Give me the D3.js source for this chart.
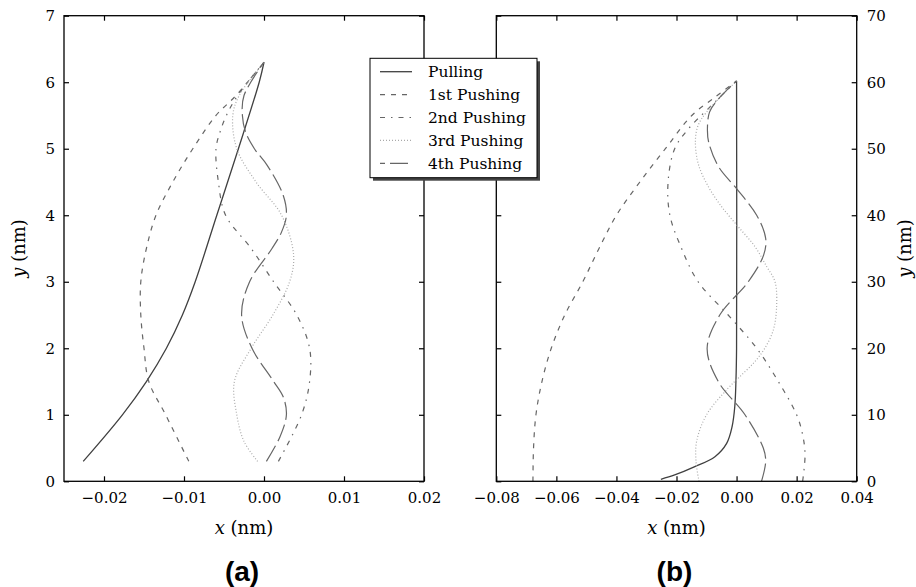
<!DOCTYPE html>
<html>
<head>
<meta charset="utf-8">
<script src="https://cdn.jsdelivr.net/npm/d3@7"></script>
<style>
	body	{ margin:0; background:#fff; }
	svg	{ display:block; }
	.tick text	{ font-family:"DejaVu Serif", serif; font-size:15px; fill:#000; }
	.lbl	{ font-family:"DejaVu Serif", serif; font-size:18px; fill:#000; }
	.leg	{ font-family:"DejaVu Serif", serif; font-size:15.5px; fill:#000; }
	.tag	{ font-family:"Liberation Sans", Arial, sans-serif; font-size:28px; font-weight:bold; fill:#000; }
</style>
</head>
<body>
<div id="chart"></div>
<script>
// series names, in legend order
var seriesNames	= ["Pulling", "1st Pushing", "2nd Pushing", "3rd Pushing", "4th Pushing"];

// panel (a): [x nm, y nm] bottom to top
var pullA	= [[-0.0226,0.3],[-0.0177,1],[-0.0147,1.5],[-0.0122,2],[-0.0102,2.5],[-0.0086,3],[-0.0059,4],[-0.0032,5],[-0.0006,6],[0,6.3]];
var push1A	= [[-0.0094,0.3],[-0.0123,1],[-0.0144,1.5],[-0.0150,2],[-0.0154,2.5],[-0.0154,3],[-0.0147,3.5],[-0.0135,4],[-0.0114,4.5],[-0.0089,5],[-0.0060,5.5],[-0.0035,5.8],[0,6.3]];
var push2A	= [[0.0018,0.3],[0.0047,1],[0.0057,1.5],[0.0057,2],[0.0041,2.5],[0.0012,3],[-0.0016,3.5],[-0.0048,4],[-0.0057,4.5],[-0.0060,5],[-0.0055,5.25],[-0.0047,5.5],[-0.0033,5.8],[0,6.3]];
var push3A	= [[-0.0008,0.3],[-0.0025,0.6],[-0.0034,1],[-0.0037,1.5],[-0.0016,2],[0.0011,2.5],[0.0032,3],[0.0037,3.4],[0.0022,4],[-0.0010,4.5],[-0.0034,5],[-0.0039,5.5],[-0.0031,5.8],[0,6.3]];
var push4A	= [[0.0003,0.3],[0.0020,0.67],[0.0028,1],[0.0024,1.27],[0.0011,1.52],[-0.0015,2],[-0.0028,2.5],[-0.0018,3],[0.0010,3.5],[0.0022,3.75],[0.0028,4],[0.0024,4.3],[0.0004,4.75],[-0.0012,5],[-0.0023,5.25],[-0.0027,5.5],[-0.0025,5.8],[0,6.3]];

// panel (b)
var pullB	= [[-0.0252,0.3],[-0.0206,0.95],[-0.0139,2.2],[-0.0072,3.7],[-0.0033,5.7],[-0.0015,8.2],[-0.0006,11.2],[-0.0002,15.2],[0,20],[0,60.2]];
var push1B	= [[-0.0678,0],[-0.0676,5],[-0.0668,10],[-0.0648,15],[-0.0617,20],[-0.0572,25],[-0.0512,30],[-0.0458,35],[-0.0400,40],[-0.0322,45],[-0.0237,50],[-0.0149,55],[-0.0070,57.8],[0,60.2]];
var push2B	= [[0.0220,0],[0.0228,4],[0.0220,7],[0.0200,10],[0.0139,15],[0.0067,20],[-0.0028,25],[-0.0128,30],[-0.0183,35],[-0.0222,40],[-0.0228,45],[-0.0206,50],[-0.0160,53],[-0.0095,56],[0,60.2]];
var push3B	= [[-0.0125,0],[-0.0135,3],[-0.0133,6],[-0.0100,10],[-0.0028,14],[0.0017,16],[0.0061,18],[0.0094,20],[0.0122,22.7],[0.0133,26],[0.0128,30],[0.0100,32.3],[0.0061,35.3],[0.0005,38.3],[-0.0050,41.3],[-0.0094,44.3],[-0.0128,47.8],[-0.0137,51.3],[-0.0128,53.5],[-0.0100,55.5],[0,60.2]];
var push4B	= [[0.0083,0],[0.0097,3],[0.0089,5],[0.0028,10],[-0.0061,15],[-0.0098,20],[-0.0056,25],[0.0039,30],[0.0090,34],[0.0097,36.5],[0.0067,40],[0,44],[-0.0060,47.3],[-0.0093,51],[-0.0097,53],[-0.0090,55.5],[-0.0060,57.5],[0,60.2]];

// ticks
var xTicksA	= [-0.02,-0.01,0,0.01,0.02];
var yTicksA	= [0,1,2,3,4,5,6,7];
var xTicksB	= [-0.08,-0.06,-0.04,-0.02,0,0.02,0.04];
var yTicksB	= [0,10,20,30,40,50,60,70];

var styles	= [
	{stroke:"#404040", dash:null,        w:1.3},
	{stroke:"#666666", dash:"5,6",       w:1.2},
	{stroke:"#666666", dash:"5,6,1.5,6", w:1.2},
	{stroke:"#aaaaaa", dash:"1,2",       w:1.2},
	{stroke:"#666666", dash:"18,5",      w:1.2}
];

var	W = 916, H = 587,
	yTop = 15.7, yBot = 481.3,
	svg = d3.select("#chart").append("svg").attr("width", W).attr("height", H),
	fmt = d3.format(".2f");

function panel(o) {
	var	x = d3.scaleLinear().domain(o.xd).range([o.left, o.right]),
		y = d3.scaleLinear().domain(o.yd).range([yBot, yTop]),
		g = svg.append("g"),
		line = d3.line().curve(d3.curveCatmullRom.alpha(0.5))
			.x(function(d) { return x(d[0]); })
			.y(function(d) { return y(d[1]); });

	g.selectAll("path.curve").data(o.series).enter().append("path")
		.attr("class", "curve")
		.attr("fill", "none")
		.attr("d", function(d) { return line(d); })
		.attr("stroke", function(d, i) { return styles[i].stroke; })
		.attr("stroke-width", function(d, i) { return styles[i].w; })
		.attr("stroke-dasharray", function(d, i) { return styles[i].dash; });

	var clean = function(a) { a.select(".domain").remove(); a.selectAll(".tick line").attr("stroke", "#000").attr("stroke-width", 1.2); };
	var bx = g.append("g").attr("transform", "translate(0," + yBot + ")")
		.call(d3.axisBottom(x).tickValues(o.xt).tickFormat(fmt).tickSizeInner(-5).tickSizeOuter(0).tickPadding(11)).call(clean);
	bx.attr("font-family", null).attr("font-size", null);
	g.append("g").attr("transform", "translate(0," + yTop + ")")
		.call(d3.axisTop(x).tickValues(o.xt).tickFormat("").tickSizeInner(-5).tickSizeOuter(0)).call(clean);
	var lab = o.yRight ? d3.axisRight(y) : d3.axisLeft(y),
	    unl = o.yRight ? d3.axisLeft(y) : d3.axisRight(y);
	var ya = g.append("g").attr("transform", "translate(" + (o.yRight ? o.right : o.left) + ",0)")
		.call(lab.tickValues(o.yt).tickFormat(d3.format("d")).tickSizeInner(-5).tickSizeOuter(0).tickPadding(o.yRight ? 10 : 9)).call(clean);
	ya.attr("font-family", null).attr("font-size", null);
	g.append("g").attr("transform", "translate(" + (o.yRight ? o.left : o.right) + ",0)")
		.call(unl.tickValues(o.yt).tickFormat("").tickSizeInner(-5).tickSizeOuter(0)).call(clean);

	g.append("rect").attr("x", o.left).attr("y", yTop)
		.attr("width", o.right - o.left).attr("height", yBot - yTop)
		.attr("fill", "none").attr("stroke", "#000").attr("stroke-width", 1.3);

	var cx = (o.left + o.right) / 2;
	var xl = g.append("text").attr("class", "lbl").attr("x", cx).attr("y", 534).attr("text-anchor", "middle");
	xl.append("tspan").attr("font-style", "italic").text("x");
	xl.append("tspan").text(" (nm)");
	var yl = g.append("text").attr("class", "lbl").attr("text-anchor", "middle")
		.attr("transform", "translate(" + o.ylx + "," + ((yTop + yBot) / 2) + ") rotate(-90)");
	yl.append("tspan").attr("font-style", "italic").text("y");
	yl.append("tspan").text(" (nm)");

	g.append("text").attr("class", "tag").attr("x", cx - 2).attr("y", 581).attr("text-anchor", "middle").text(o.tag);
}

panel({left:64, right:424, xd:[-0.025,0.02], yd:[0,7], xt:xTicksA, yt:yTicksA, yRight:false, ylx:25,
	series:[pullA, push1A, push2A, push3A, push4A], tag:"(a)"});
panel({left:496.3, right:856.7, xd:[-0.08,0.04], yd:[0,70], xt:xTicksB, yt:yTicksB, yRight:true, ylx:911,
	series:[pullB, push1B, push2B, push3B, push4B], tag:"(b)"});

// legend
var	leg = svg.append("g"),
	lx = 370, ly = 58.3, lw = 167, lh = 119.4;
leg.append("rect").attr("x", lx + 3).attr("y", ly + 3).attr("width", lw).attr("height", lh).attr("fill", "#444");
leg.append("rect").attr("x", lx).attr("y", ly).attr("width", lw).attr("height", lh)
	.attr("fill", "#fff").attr("stroke", "#000").attr("stroke-width", 1);
var row = leg.selectAll("g.row").data(seriesNames).enter().append("g").attr("class", "row")
	.attr("transform", function(d, i) { return "translate(0," + (71.7 + i * 22.9) + ")"; });
row.append("line").attr("x1", 380).attr("x2", 412).attr("y1", 0).attr("y2", 0)
	.attr("stroke", function(d, i) { return styles[i].stroke; })
	.attr("stroke-width", function(d, i) { return styles[i].w; })
	.attr("stroke-dasharray", function(d, i) { return styles[i].dash; })
	.attr("stroke-dashoffset", function(d, i) { return i == 4 ? 13 : 0; });
row.append("text").attr("class", "leg").attr("x", 428).attr("y", 5.5).text(function(d) { return d; });
</script>
</body>
</html>
